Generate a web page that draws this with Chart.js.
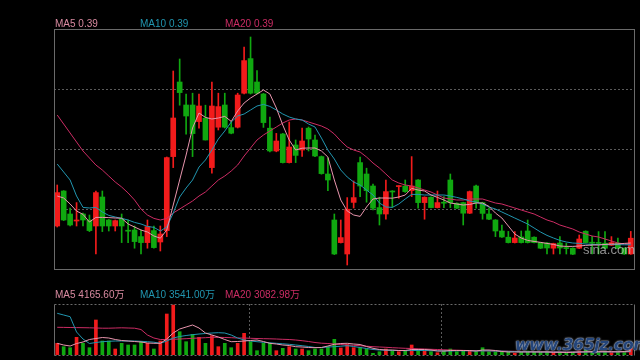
<!DOCTYPE html>
<html lang="zh">
<head>
<meta charset="UTF-8" />
<title>K线图</title>
<script src="https://cdn.jsdelivr.net/npm/chart.js"></script>
<style>
  body { margin: 0; background: #000; width: 640px; height: 360px; overflow: hidden; position: relative;
         font-family: "Liberation Sans", Arial, "Noto Sans CJK SC", sans-serif; font-size: 10px; }
  canvas { position: absolute; left: 0; }
  .lbl { position: absolute; line-height: 10px; white-space: nowrap; }
  .wm1 { position: absolute; left: 583px; top: 242px; font-size: 13px; color: rgba(190,190,190,0.75); }
  .wm2 { position: absolute; left: 515px; top: 335px; font: bold italic 16px "DejaVu Sans", sans-serif;
         color: #24457a; text-shadow: 0 0 1px #c8d0e0, 0 0 2px #c8d0e0; letter-spacing: -0.5px; }
</style>
</head>
<body>
<canvas id="kChart" width="640" height="275" style="top:0"></canvas>
<canvas id="volChart" width="640" height="80" style="top:280px"></canvas>

<div class="lbl" style="left:55px;top:19px;color:#d98aa0">MA5 0.39</div>
<div class="lbl" style="left:140px;top:19px;color:#2196b0">MA10 0.39</div>
<div class="lbl" style="left:225px;top:19px;color:#cc2c64">MA20 0.39</div>
<div class="lbl" style="left:55px;top:290px;color:#d98aa0">MA5 4165.60万</div>
<div class="lbl" style="left:140px;top:290px;color:#2196b0">MA10 3541.00万</div>
<div class="lbl" style="left:225px;top:290px;color:#cc2c64">MA20 3082.98万</div>
<div class="wm1">sina.com</div>
<div class="wm2">www.365jz.com</div>

<script>
// daily prices
const opens = [0.475,0.650,0.535,0.500,0.535,0.505,0.475,0.620,0.505,0.475,
  0.510,0.454,0.455,0.422,0.392,0.452,0.395,0.452,0.822,1.195,
  1.080,1.080,0.997,1.014,0.767,0.969,1.080,0.967,0.969,1.139,
  1.312,1.195,1.135,0.964,0.850,0.935,0.792,0.880,0.855,0.964,
  0.905,0.822,0.735,0.505,0.392,0.335,0.593,0.792,0.735,0.675,
  0.567,0.535,0.650,0.672,0.675,0.652,0.705,0.592,0.619,0.567,
  0.592,0.705,0.589,0.592,0.539,0.675,0.592,0.535,0.505,0.450,
  0.419,0.392,0.420,0.450,0.419,0.392,0.390,0.364,0.390,0.365,
  0.364,0.364,0.449,0.392,0.390,0.389,0.379,0.389,0.364,0.335];
const closes = [0.642,0.505,0.480,0.505,0.505,0.452,0.642,0.475,0.475,0.502,
  0.475,0.449,0.397,0.392,0.472,0.367,0.435,0.817,1.015,1.142,
  1.025,0.937,1.075,0.905,1.075,1.072,0.969,0.939,1.130,1.302,
  1.139,1.139,0.992,0.850,0.900,0.792,0.870,0.828,0.900,0.910,
  0.825,0.737,0.705,0.335,0.417,0.559,0.617,0.675,0.652,0.564,
  0.535,0.647,0.645,0.675,0.647,0.675,0.592,0.619,0.567,0.592,
  0.589,0.592,0.564,0.539,0.647,0.592,0.538,0.509,0.450,0.420,
  0.392,0.415,0.392,0.392,0.392,0.364,0.365,0.387,0.365,0.362,
  0.334,0.410,0.392,0.389,0.388,0.364,0.392,0.364,0.335,0.414];
const highs = [0.680,0.652,0.565,0.592,0.540,0.530,0.649,0.650,0.508,0.505,
  0.535,0.505,0.475,0.455,0.505,0.475,0.475,0.820,1.250,1.310,
  1.135,1.139,1.135,1.079,1.194,1.139,1.139,0.997,1.139,1.369,
  1.420,1.252,1.138,1.019,0.938,0.938,0.995,0.905,0.965,0.970,
  0.930,0.825,0.815,0.535,0.505,0.617,0.700,0.820,0.764,0.685,
  0.619,0.705,0.652,0.677,0.705,0.822,0.707,0.621,0.621,0.650,
  0.622,0.735,0.591,0.594,0.650,0.680,0.594,0.564,0.507,0.480,
  0.448,0.447,0.450,0.505,0.421,0.394,0.392,0.389,0.422,0.388,
  0.366,0.430,0.451,0.423,0.447,0.447,0.422,0.415,0.366,0.448];
const lows = [0.470,0.502,0.475,0.475,0.475,0.447,0.335,0.447,0.450,0.450,
  0.392,0.392,0.364,0.335,0.364,0.364,0.350,0.422,0.767,1.079,
  0.934,0.822,0.964,0.905,0.739,0.955,0.965,0.936,0.965,1.135,
  1.135,1.136,0.968,0.846,0.846,0.790,0.790,0.792,0.823,0.850,
  0.822,0.734,0.652,0.332,0.390,0.280,0.565,0.622,0.594,0.555,
  0.480,0.509,0.569,0.614,0.643,0.622,0.564,0.509,0.565,0.565,
  0.567,0.567,0.562,0.480,0.537,0.564,0.509,0.507,0.422,0.418,
  0.390,0.390,0.390,0.390,0.390,0.362,0.335,0.335,0.335,0.335,
  0.332,0.362,0.390,0.335,0.335,0.362,0.377,0.362,0.333,0.333];

// moving averages of price
const ma5 = [0.625,0.615,0.585,0.550,0.533,0.495,0.518,0.518,0.517,0.515,
  0.514,0.485,0.470,0.455,0.445,0.425,0.414,0.455,0.580,0.705,
  0.830,0.965,1.040,1.018,1.010,1.015,1.023,0.998,1.050,1.090,
  1.115,1.135,1.155,1.135,1.065,0.980,0.905,0.855,0.864,0.865,
  0.865,0.850,0.820,0.705,0.605,0.550,0.530,0.523,0.570,0.610,
  0.615,0.615,0.614,0.620,0.630,0.663,0.655,0.650,0.630,0.618,
  0.605,0.590,0.585,0.580,0.583,0.590,0.590,0.573,0.540,0.515,
  0.475,0.435,0.415,0.403,0.398,0.393,0.388,0.383,0.375,0.373,
  0.373,0.375,0.378,0.380,0.380,0.383,0.385,0.385,0.388,0.390];
const ma10 = [0.785,0.745,0.705,0.625,0.568,0.565,0.568,0.545,0.528,0.520,
  0.513,0.505,0.493,0.485,0.473,0.468,0.450,0.470,0.540,0.620,
  0.665,0.705,0.770,0.805,0.855,0.910,0.950,0.995,1.025,1.035,
  1.055,1.075,1.083,1.073,1.055,1.035,1.020,1.010,1.005,0.985,
  0.970,0.915,0.855,0.810,0.755,0.720,0.695,0.680,0.655,0.630,
  0.590,0.570,0.568,0.585,0.610,0.633,0.633,0.630,0.630,0.630,
  0.630,0.625,0.618,0.610,0.600,0.595,0.585,0.570,0.560,0.545,
  0.530,0.515,0.500,0.485,0.465,0.445,0.428,0.415,0.403,0.395,
  0.390,0.388,0.385,0.383,0.382,0.382,0.382,0.382,0.381,0.381];
const ma20 = [1.030,0.985,0.940,0.895,0.850,0.815,0.780,0.755,0.725,0.695,
  0.670,0.640,0.605,0.560,0.530,0.513,0.505,0.513,0.540,0.560,
  0.580,0.600,0.625,0.645,0.675,0.705,0.725,0.750,0.780,0.825,
  0.865,0.905,0.930,0.950,0.970,0.990,1.005,1.010,1.005,0.995,
  0.985,0.975,0.960,0.935,0.900,0.870,0.855,0.845,0.820,0.790,
  0.765,0.735,0.705,0.690,0.680,0.675,0.665,0.655,0.645,0.630,
  0.615,0.610,0.605,0.605,0.610,0.610,0.610,0.600,0.590,0.585,
  0.575,0.565,0.555,0.545,0.535,0.520,0.505,0.495,0.480,0.470,
  0.460,0.445,0.435,0.425,0.420,0.410,0.400,0.390,0.385,0.383];

// volume, in 万
const volumes = [11700,8300,7300,17700,11700,7300,35000,14000,14000,6000,
  11700,10000,10000,13300,11700,6000,14000,41000,50000,23300,
  13300,20700,17700,11700,19300,8300,11700,7300,11700,21700,
  13300,4300,11700,11700,4300,6700,8300,6000,6000,4300,
  6000,6000,8300,15700,7000,10500,7300,7300,6000,1700,
  3300,6000,4300,3300,4300,10000,5000,4300,3300,2300,
  4300,6000,3300,4300,4300,3300,7300,3300,3300,3300,
  3300,1700,3300,4000,3000,3000,3000,2500,3000,2000,
  3000,4000,5000,2500,3000,3000,2500,3000,3500,6700];
const volMa5 = [11700,10000,9000,11500,13000,15500,16500,17500,17000,15500,
  14500,14000,13500,13000,12000,11700,11700,16000,22000,26000,
  28000,30000,27000,22000,20000,18000,15500,13300,13500,14000,
  14500,15000,13500,11700,11000,10000,9500,8300,8000,7500,
  7300,7500,9000,10700,11500,11700,11000,10500,8500,6700,
  5500,5000,5000,4500,4500,5500,5500,5500,5000,4000,
  4000,4500,4500,4500,4500,4000,5000,5000,4500,3500,
  3000,3000,3000,3000,3000,3000,3000,2700,2700,2500,
  2700,3000,3200,3300,3300,3300,3300,3200,3500,4165.6];
const volMa10 = [41700,40000,38300,23000,16000,11500,12500,13300,13700,14000,
  14000,14000,14000,13700,13300,12800,11700,14000,17000,18500,
  19500,20300,21000,21500,22000,22300,22000,20000,17000,15000,
  14000,13300,12700,12200,11700,11200,10700,10000,9300,8500,
  7500,7500,8000,8300,8800,9300,8500,7500,6500,5500,
  5000,4800,4500,4500,4300,4500,4500,4500,4300,4200,
  4000,4000,4200,4200,4200,4000,4200,4200,4000,3800,
  3600,3400,3200,3200,3100,3000,3000,2900,2900,2800,
  2800,2900,3000,3100,3100,3100,3100,3200,3300,3541];
const volMa20 = [27700,27600,27500,27400,27300,27200,27000,26800,26800,27000,
  27200,27000,26800,25500,20000,17000,15500,15500,15700,16000,
  16300,16700,17000,17300,17700,17700,17500,17300,17000,17000,
  16700,16500,16300,16200,16000,15700,15500,15000,14300,13500,
  12500,11800,11500,11000,10500,10000,9700,9300,8800,8300,
  8000,7700,7300,7000,6700,6500,6200,6000,5700,5500,
  5200,5000,4800,4600,4400,4300,4200,4100,4000,3900,
  3800,3700,3600,3500,3400,3300,3300,3200,3200,3100,
  3100,3100,3100,3100,3100,3100,3100,3100,3100,3083];

const days = opens.map((_, i) => i + 1);
const priceGrid = [0.56, 0.86, 1.16];
const volSeparators = [29.75, 59.55];

const RED = '#f21b1b', GREEN = '#10a810';
const C_MA5 = '#e895ad', C_MA10 = '#2196b0', C_MA20 = '#cc2c64';
const candleColors = closes.map((c, i) => (c >= opens[i] ? RED : GREEN));

// frame + dotted grid drawn by hand, the axes themselves stay hidden
const frame = {
  id: 'frame',
  beforeDatasetsDraw(chart, args, opts) {
    const { ctx, chartArea: a, scales } = chart;
    ctx.save();
    ctx.strokeStyle = '#5a5a5a';
    ctx.lineWidth = 1;
    ctx.setLineDash([2, 2]);
    (opts.hLines || []).forEach(v => {
      const y = Math.round(scales.y.getPixelForValue(v)) + 0.5;
      ctx.beginPath(); ctx.moveTo(a.left, y); ctx.lineTo(a.right, y); ctx.stroke();
    });
    (opts.vLines || []).forEach(v => {
      const x = Math.round(scales.x.getPixelForValue(v)) + 0.5;
      ctx.beginPath(); ctx.moveTo(x, a.top); ctx.lineTo(x, a.bottom); ctx.stroke();
    });
    ctx.restore();
  },
  afterDraw(chart, args, opts) {
    const { ctx, chartArea: a } = chart;
    const l = a.left + 0.5, r = a.right + 0.5, t = a.top + 0.5, b = a.bottom + 0.5;
    ctx.save();
    ctx.strokeStyle = '#6a6a6a';
    ctx.lineWidth = 1;
    if (opts.box) {
      ctx.strokeRect(l, t, a.width, a.height);
    } else {
      ctx.beginPath(); ctx.moveTo(l, t); ctx.lineTo(l, b); ctx.moveTo(r, t); ctx.lineTo(r, b); ctx.stroke();
      ctx.setLineDash([2, 2]);
      ctx.beginPath(); ctx.moveTo(l, t); ctx.lineTo(r, t); ctx.moveTo(l, b); ctx.lineTo(r, b); ctx.stroke();
    }
    ctx.restore();
  }
};

function maLine(label, data, color) {
  return { type: 'line', label, data, borderColor: color, borderWidth: 1,
           pointRadius: 0, tension: 0, order: 1 };
}

const hidden = { display: false };

new Chart(document.getElementById('kChart'), {
  type: 'bar',
  data: {
    labels: days,
    datasets: [
      maLine('MA5', ma5, C_MA5),
      maLine('MA10', ma10, C_MA10),
      maLine('MA20', ma20, C_MA20),
      { label: 'wick', data: lows.map((l, i) => [l, highs[i]]), backgroundColor: candleColors,
        barThickness: 1, grouped: false, borderWidth: 0, order: 3 },
      { label: 'body', data: opens.map((o, i) => [o, closes[i]]), backgroundColor: candleColors,
        barThickness: 5, minBarLength: 1, grouped: false, borderWidth: 0, order: 2 }
    ]
  },
  options: {
    responsive: false,
    animation: false,
    devicePixelRatio: 1,
    layout: { padding: { left: 54, top: 29, right: 6, bottom: 6 } },
    scales: {
      x: { display: false, offset: true },
      y: { display: false, min: 0.26, max: 1.46 }
    },
    plugins: {
      legend: hidden, tooltip: { enabled: false },
      frame: { hLines: priceGrid, box: true }
    }
  },
  plugins: [frame]
});

new Chart(document.getElementById('volChart'), {
  type: 'bar',
  data: {
    labels: days,
    datasets: [
      maLine('MA5', volMa5, C_MA5),
      maLine('MA10', volMa10, C_MA10),
      maLine('MA20', volMa20, C_MA20),
      { label: 'vol', data: volumes, backgroundColor: candleColors,
        barThickness: 3, grouped: false, borderWidth: 0, order: 2 }
    ]
  },
  options: {
    responsive: false,
    animation: false,
    devicePixelRatio: 1,
    layout: { padding: { left: 54, top: 24, right: 6, bottom: 5 } },
    scales: {
      x: { display: false, offset: true },
      y: { display: false, min: 0, max: 51000 }
    },
    plugins: {
      legend: hidden, tooltip: { enabled: false },
      frame: { vLines: volSeparators, box: false }
    }
  },
  plugins: [frame]
});
</script>
</body>
</html>
